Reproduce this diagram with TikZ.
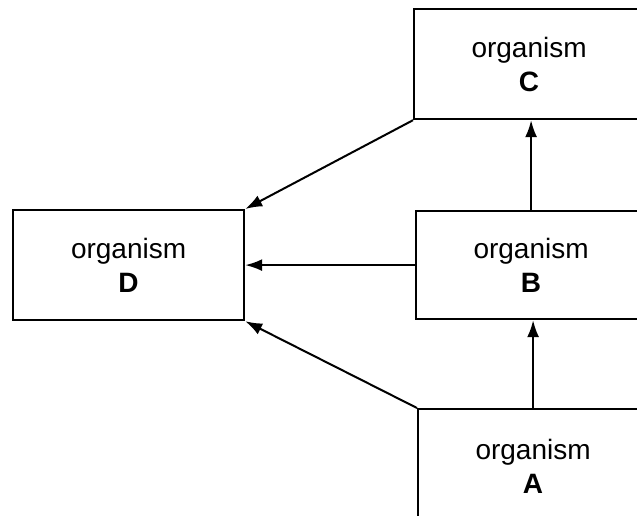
\documentclass[tikz,border=0pt]{standalone}
\usepackage{fontspec}
\setmainfont{Liberation Sans}
\usetikzlibrary{arrows.meta}
\begin{document}
\begin{tikzpicture}[x=1pt,y=-1pt,
  box/.style={draw,line width=2.2pt,minimum width=230pt,anchor=north west,inner sep=0pt,align=center,
     font=\fontsize{28}{34}\selectfont},
  dbox/.style={box,minimum width=231pt,minimum height=110pt},
  arr/.style={line width=2pt,-{Latex[length=17pt,width=12pt]}}]
\useasboundingbox (0,0) rectangle (637,516);
\clip (0,0) rectangle (637,516);
\node[box,minimum height=110pt] (C) at (413,8) {organism\\\textbf{C}};
\node[box,minimum height=108pt] (B) at (415,210) {organism\\\textbf{B}};
\node[box,minimum height=114pt] (A) at (417,408) {organism\\\textbf{A}};
\node[dbox] (D) at (12,209) {organism\\\textbf{D}};
\draw[arr] (C.south west) -- (D.north east);
\draw[arr] (B.west) -- (D.east);
\draw[arr] (A.north west) -- (D.south east);
\draw[arr] (A.north) -- (A.north |- B.south);
\draw[arr] (B.north) -- (B.north |- C.south);
\end{tikzpicture}
\end{document}
